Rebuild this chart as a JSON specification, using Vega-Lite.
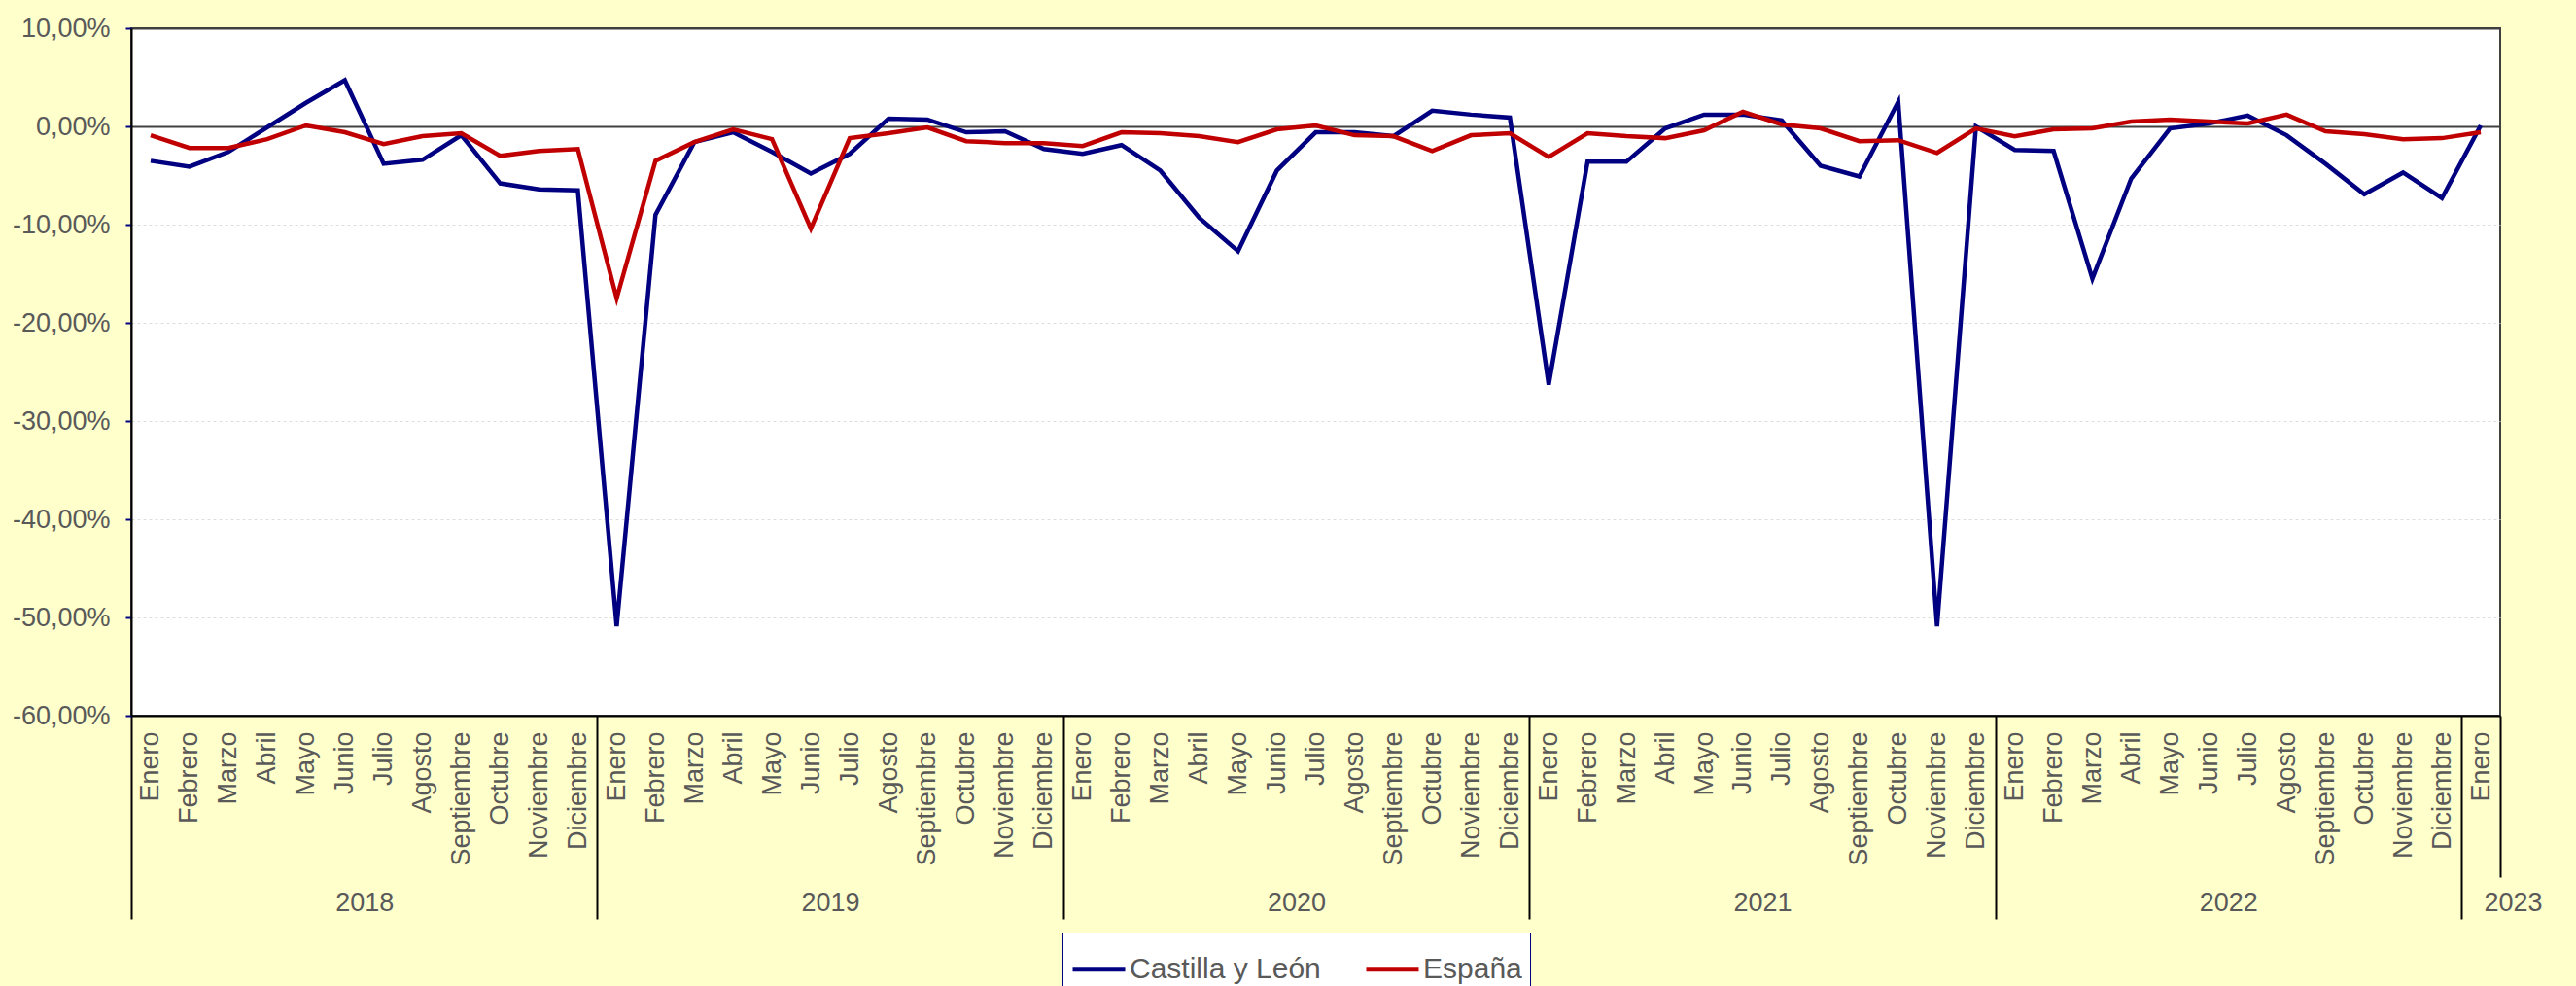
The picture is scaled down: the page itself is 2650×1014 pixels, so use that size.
{
  "$schema": "https://vega.github.io/schema/vega-lite/v6.json",
  "width": 2437,
  "height": 707,
  "autosize": {"type": "none"},
  "padding": {"left": 135, "top": 29, "right": 78, "bottom": 278},
  "background": "#FFFFCC",
  "config": {
    "font": "Liberation Sans",
    "view": {"stroke": "#404040", "strokeWidth": 2, "fill": "white"}
  },
  "data": {"values": [
    {"periodo": "Enero 2018", "serie": "Castilla y León", "valor": -3.5},
    {"periodo": "Febrero 2018", "serie": "Castilla y León", "valor": -4.1},
    {"periodo": "Marzo 2018", "serie": "Castilla y León", "valor": -2.6},
    {"periodo": "Abril 2018", "serie": "Castilla y León", "valor": -0.1},
    {"periodo": "Mayo 2018", "serie": "Castilla y León", "valor": 2.4},
    {"periodo": "Junio 2018", "serie": "Castilla y León", "valor": 4.7},
    {"periodo": "Julio 2018", "serie": "Castilla y León", "valor": -3.8},
    {"periodo": "Agosto 2018", "serie": "Castilla y León", "valor": -3.4},
    {"periodo": "Septiembre 2018", "serie": "Castilla y León", "valor": -0.9},
    {"periodo": "Octubre 2018", "serie": "Castilla y León", "valor": -5.8},
    {"periodo": "Noviembre 2018", "serie": "Castilla y León", "valor": -6.4},
    {"periodo": "Diciembre 2018", "serie": "Castilla y León", "valor": -6.5},
    {"periodo": "Enero 2019", "serie": "Castilla y León", "valor": -50.9},
    {"periodo": "Febrero 2019", "serie": "Castilla y León", "valor": -9.0},
    {"periodo": "Marzo 2019", "serie": "Castilla y León", "valor": -1.6},
    {"periodo": "Abril 2019", "serie": "Castilla y León", "valor": -0.6},
    {"periodo": "Mayo 2019", "serie": "Castilla y León", "valor": -2.6},
    {"periodo": "Junio 2019", "serie": "Castilla y León", "valor": -4.8},
    {"periodo": "Julio 2019", "serie": "Castilla y León", "valor": -2.8},
    {"periodo": "Agosto 2019", "serie": "Castilla y León", "valor": 0.8},
    {"periodo": "Septiembre 2019", "serie": "Castilla y León", "valor": 0.7},
    {"periodo": "Octubre 2019", "serie": "Castilla y León", "valor": -0.6},
    {"periodo": "Noviembre 2019", "serie": "Castilla y León", "valor": -0.5},
    {"periodo": "Diciembre 2019", "serie": "Castilla y León", "valor": -2.3},
    {"periodo": "Enero 2020", "serie": "Castilla y León", "valor": -2.8},
    {"periodo": "Febrero 2020", "serie": "Castilla y León", "valor": -1.9},
    {"periodo": "Marzo 2020", "serie": "Castilla y León", "valor": -4.5},
    {"periodo": "Abril 2020", "serie": "Castilla y León", "valor": -9.3},
    {"periodo": "Mayo 2020", "serie": "Castilla y León", "valor": -12.7},
    {"periodo": "Junio 2020", "serie": "Castilla y León", "valor": -4.5},
    {"periodo": "Julio 2020", "serie": "Castilla y León", "valor": -0.6},
    {"periodo": "Agosto 2020", "serie": "Castilla y León", "valor": -0.6},
    {"periodo": "Septiembre 2020", "serie": "Castilla y León", "valor": -1.0},
    {"periodo": "Octubre 2020", "serie": "Castilla y León", "valor": 1.6},
    {"periodo": "Noviembre 2020", "serie": "Castilla y León", "valor": 1.2},
    {"periodo": "Diciembre 2020", "serie": "Castilla y León", "valor": 0.9},
    {"periodo": "Enero 2021", "serie": "Castilla y León", "valor": -26.3},
    {"periodo": "Febrero 2021", "serie": "Castilla y León", "valor": -3.6},
    {"periodo": "Marzo 2021", "serie": "Castilla y León", "valor": -3.6},
    {"periodo": "Abril 2021", "serie": "Castilla y León", "valor": -0.2},
    {"periodo": "Mayo 2021", "serie": "Castilla y León", "valor": 1.2},
    {"periodo": "Junio 2021", "serie": "Castilla y León", "valor": 1.2},
    {"periodo": "Julio 2021", "serie": "Castilla y León", "valor": 0.6},
    {"periodo": "Agosto 2021", "serie": "Castilla y León", "valor": -4.0},
    {"periodo": "Septiembre 2021", "serie": "Castilla y León", "valor": -5.1},
    {"periodo": "Octubre 2021", "serie": "Castilla y León", "valor": 2.5},
    {"periodo": "Noviembre 2021", "serie": "Castilla y León", "valor": -50.9},
    {"periodo": "Diciembre 2021", "serie": "Castilla y León", "valor": 0.0},
    {"periodo": "Enero 2022", "serie": "Castilla y León", "valor": -2.4},
    {"periodo": "Febrero 2022", "serie": "Castilla y León", "valor": -2.5},
    {"periodo": "Marzo 2022", "serie": "Castilla y León", "valor": -15.5},
    {"periodo": "Abril 2022", "serie": "Castilla y León", "valor": -5.3},
    {"periodo": "Mayo 2022", "serie": "Castilla y León", "valor": -0.2},
    {"periodo": "Junio 2022", "serie": "Castilla y León", "valor": 0.3},
    {"periodo": "Julio 2022", "serie": "Castilla y León", "valor": 1.1},
    {"periodo": "Agosto 2022", "serie": "Castilla y León", "valor": -0.9},
    {"periodo": "Septiembre 2022", "serie": "Castilla y León", "valor": -3.8},
    {"periodo": "Octubre 2022", "serie": "Castilla y León", "valor": -6.9},
    {"periodo": "Noviembre 2022", "serie": "Castilla y León", "valor": -4.7},
    {"periodo": "Diciembre 2022", "serie": "Castilla y León", "valor": -7.3},
    {"periodo": "Enero 2023", "serie": "Castilla y León", "valor": 0.1},
    {"periodo": "Enero 2018", "serie": "España", "valor": -0.9},
    {"periodo": "Febrero 2018", "serie": "España", "valor": -2.2},
    {"periodo": "Marzo 2018", "serie": "España", "valor": -2.2},
    {"periodo": "Abril 2018", "serie": "España", "valor": -1.3},
    {"periodo": "Mayo 2018", "serie": "España", "valor": 0.1},
    {"periodo": "Junio 2018", "serie": "España", "valor": -0.6},
    {"periodo": "Julio 2018", "serie": "España", "valor": -1.8},
    {"periodo": "Agosto 2018", "serie": "España", "valor": -1.0},
    {"periodo": "Septiembre 2018", "serie": "España", "valor": -0.7},
    {"periodo": "Octubre 2018", "serie": "España", "valor": -3.0},
    {"periodo": "Noviembre 2018", "serie": "España", "valor": -2.5},
    {"periodo": "Diciembre 2018", "serie": "España", "valor": -2.3},
    {"periodo": "Enero 2019", "serie": "España", "valor": -17.5},
    {"periodo": "Febrero 2019", "serie": "España", "valor": -3.5},
    {"periodo": "Marzo 2019", "serie": "España", "valor": -1.6},
    {"periodo": "Abril 2019", "serie": "España", "valor": -0.3},
    {"periodo": "Mayo 2019", "serie": "España", "valor": -1.3},
    {"periodo": "Junio 2019", "serie": "España", "valor": -10.4},
    {"periodo": "Julio 2019", "serie": "España", "valor": -1.2},
    {"periodo": "Agosto 2019", "serie": "España", "valor": -0.7},
    {"periodo": "Septiembre 2019", "serie": "España", "valor": -0.1},
    {"periodo": "Octubre 2019", "serie": "España", "valor": -1.5},
    {"periodo": "Noviembre 2019", "serie": "España", "valor": -1.7},
    {"periodo": "Diciembre 2019", "serie": "España", "valor": -1.7},
    {"periodo": "Enero 2020", "serie": "España", "valor": -2.0},
    {"periodo": "Febrero 2020", "serie": "España", "valor": -0.6},
    {"periodo": "Marzo 2020", "serie": "España", "valor": -0.7},
    {"periodo": "Abril 2020", "serie": "España", "valor": -1.0},
    {"periodo": "Mayo 2020", "serie": "España", "valor": -1.6},
    {"periodo": "Junio 2020", "serie": "España", "valor": -0.3},
    {"periodo": "Julio 2020", "serie": "España", "valor": 0.1},
    {"periodo": "Agosto 2020", "serie": "España", "valor": -0.9},
    {"periodo": "Septiembre 2020", "serie": "España", "valor": -1.0},
    {"periodo": "Octubre 2020", "serie": "España", "valor": -2.5},
    {"periodo": "Noviembre 2020", "serie": "España", "valor": -0.9},
    {"periodo": "Diciembre 2020", "serie": "España", "valor": -0.7},
    {"periodo": "Enero 2021", "serie": "España", "valor": -3.1},
    {"periodo": "Febrero 2021", "serie": "España", "valor": -0.7},
    {"periodo": "Marzo 2021", "serie": "España", "valor": -1.0},
    {"periodo": "Abril 2021", "serie": "España", "valor": -1.2},
    {"periodo": "Mayo 2021", "serie": "España", "valor": -0.4},
    {"periodo": "Junio 2021", "serie": "España", "valor": 1.5},
    {"periodo": "Julio 2021", "serie": "España", "valor": 0.2},
    {"periodo": "Agosto 2021", "serie": "España", "valor": -0.2},
    {"periodo": "Septiembre 2021", "serie": "España", "valor": -1.5},
    {"periodo": "Octubre 2021", "serie": "España", "valor": -1.4},
    {"periodo": "Noviembre 2021", "serie": "España", "valor": -2.7},
    {"periodo": "Diciembre 2021", "serie": "España", "valor": -0.2},
    {"periodo": "Enero 2022", "serie": "España", "valor": -1.0},
    {"periodo": "Febrero 2022", "serie": "España", "valor": -0.3},
    {"periodo": "Marzo 2022", "serie": "España", "valor": -0.2},
    {"periodo": "Abril 2022", "serie": "España", "valor": 0.5},
    {"periodo": "Mayo 2022", "serie": "España", "valor": 0.7},
    {"periodo": "Junio 2022", "serie": "España", "valor": 0.5},
    {"periodo": "Julio 2022", "serie": "España", "valor": 0.3},
    {"periodo": "Agosto 2022", "serie": "España", "valor": 1.2},
    {"periodo": "Septiembre 2022", "serie": "España", "valor": -0.5},
    {"periodo": "Octubre 2022", "serie": "España", "valor": -0.8},
    {"periodo": "Noviembre 2022", "serie": "España", "valor": -1.3},
    {"periodo": "Diciembre 2022", "serie": "España", "valor": -1.2},
    {"periodo": "Enero 2023", "serie": "España", "valor": -0.6}
  ]},
  "resolve": {"scale": {"x": "independent"}, "axis": {"x": "independent"}},
  "layer": [
    {
      "mark": {"type": "line", "strokeWidth": 4.5},
      "encoding": {
        "x": {
          "field": "periodo", "type": "ordinal", "sort": null,
          "scale": {"type": "point", "padding": 0.5},
          "axis": {
            "orient": "bottom", "title": null, "ticks": false, "tickSize": 0,
            "labelAngle": 270, "labelAlign": "right", "labelBaseline": "middle",
            "labelPadding": 16, "labelFontSize": 27, "labelColor": "#595959",
            "labelExpr": "split(datum.value, ' ')[0]",
            "domainColor": "#000000", "domainWidth": 2, "grid": false, "labelOverlap": false
          }
        },
        "y": {
          "field": "valor", "type": "quantitative",
          "scale": {"domain": [-60, 10], "nice": false, "zero": false},
          "axis": {
            "title": null, "values": [-60, -50, -40, -30, -20, -10, 0, 10],
            "labelExpr": "replace(replace(format(datum.value, '.2f'), '.', ','), '\u2212', '-') + '%'",
            "labelFontSize": 27, "labelColor": "#595959", "labelPadding": 16,
            "tickSize": 6, "tickColor": "#000080", "tickWidth": 2,
            "domainColor": "#000000", "domainWidth": 2,
            "grid": true,
            "gridColor": {"condition": {"test": "datum.value == 0 || datum.value == 10", "value": "#404040"}, "value": "#DDDDDD"},
            "gridWidth": {"condition": {"test": "datum.value == 0 || datum.value == 10", "value": 2}, "value": 1},
            "gridDash": {"condition": {"test": "datum.value == 0 || datum.value == 10", "value": []}, "value": [3, 3]}
          }
        },
        "color": {
          "field": "serie", "type": "nominal",
          "scale": {"domain": ["Castilla y León", "España"], "range": ["#000080", "#C00000"]},
          "legend": {
            "orient": "none", "legendX": 958, "legendY": 930,
            "direction": "horizontal", "title": null,
            "fillColor": "white", "strokeColor": "#000080", "padding": 8,
            "symbolType": "stroke", "symbolStrokeWidth": 5, "symbolSize": 2916,
            "labelFontSize": 30, "labelColor": "#595959", "columnPadding": 36,
            "labelOffset": 2, "labelLimit": 0
          }
        }
      }
    },
    {
      "mark": {"type": "point", "opacity": 0},
      "encoding": {
        "x": {
          "field": "periodo", "type": "ordinal", "sort": null,
          "scale": {"type": "point", "padding": 0.5},
          "axis": {
            "orient": "bottom", "title": null, "domain": false, "grid": false,
            "ticks": true, "tickSize": 209, "tickColor": "#000000", "tickWidth": 2, "tickOffset": -20,
            "labels": false,
            "values": ["Enero 2018", "Enero 2019", "Enero 2020", "Enero 2021", "Enero 2022", "Enero 2023"]
          }
        }
      }
    },
    {
      "mark": {"type": "point", "opacity": 0},
      "encoding": {
        "x": {
          "field": "periodo", "type": "ordinal", "sort": null,
          "scale": {"type": "point", "padding": 0.5},
          "axis": {
            "orient": "bottom", "title": null, "domain": false, "grid": false,
            "ticks": true, "tickSize": 166, "tickColor": "#000000", "tickWidth": 2, "tickOffset": 20,
            "labels": false,
            "values": ["Enero 2023"]
          }
        }
      }
    },
    {
      "mark": {"type": "point", "opacity": 0},
      "encoding": {
        "x": {
          "field": "periodo", "type": "ordinal", "sort": null,
          "scale": {"type": "point", "padding": 0.5},
          "axis": {
            "orient": "bottom", "title": null, "domain": false, "grid": false,
            "ticks": false, "tickSize": 0,
            "labelAngle": 0, "labelAlign": "center", "labelBaseline": "middle",
            "labelPadding": 192, "labelFontSize": 27, "labelColor": "#595959",
            "labelOffset": {"condition": {"test": "datum.value == 'Enero 2023'", "value": 33}, "value": -20},
            "labelExpr": "split(datum.value, ' ')[1]", "labelOverlap": false,
            "values": ["Julio 2018", "Julio 2019", "Julio 2020", "Julio 2021", "Julio 2022", "Enero 2023"]
          }
        }
      }
    }
  ]
}
